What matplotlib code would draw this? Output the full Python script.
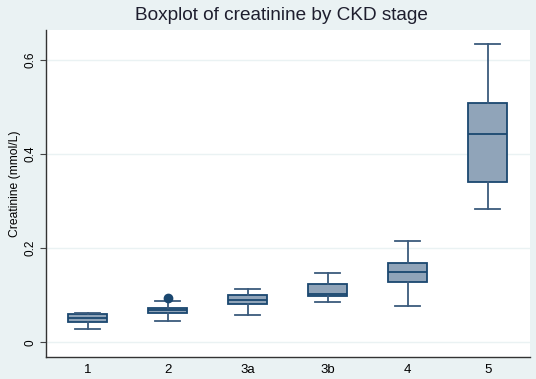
import matplotlib
matplotlib.use("Agg")
import matplotlib.pyplot as plt

plt.rcParams['font.family'] = ['Liberation Sans', 'DejaVu Sans']

stages = ["1", "2", "3a", "3b", "4", "5"]
whislo = [0.0276, 0.0446, 0.0573, 0.0856, 0.0777, 0.2837]
q1     = [0.0425, 0.0622, 0.0807, 0.0990, 0.1280, 0.3400]
med    = [0.0510, 0.0680, 0.0898, 0.1025, 0.1490, 0.4416]
q3     = [0.0594, 0.0722, 0.0998, 0.1244, 0.1677, 0.5090]
whishi = [0.0616, 0.0877, 0.1130, 0.1470, 0.2157, 0.6330]
outliers = [[], [0.0947], [], [], [], []]

yticks = [0, 0.2, 0.4, 0.6]
ytick_labels = ["0", "0.2", "0.4", "0.6"]

bg = "#EAF2F3"
edge = "#1A476F"
fill = "#90A4B9"

fig = plt.figure(figsize=(5.36, 3.79), dpi=100, facecolor=bg)
ax = fig.add_axes([46/536, 1 - 357/379, (530-46)/536, (357-30)/379])
ax.set_facecolor("white")

stats = []
for i in range(len(stages)):
    stats.append(dict(label=stages[i], whislo=whislo[i], q1=q1[i], med=med[i],
                      q3=q3[i], whishi=whishi[i], fliers=outliers[i]))

ax.bxp(stats, positions=range(1, len(stages) + 1), widths=0.48, patch_artist=True,
       boxprops=dict(facecolor=fill, edgecolor=edge, linewidth=1.3),
       medianprops=dict(color=edge, linewidth=1.3),
       whiskerprops=dict(color="#3A5A7C", linewidth=1.3),
       capprops=dict(color="#3A5A7C", linewidth=1.3),
       flierprops=dict(marker="o", markerfacecolor=edge, markeredgecolor=edge, markersize=6),
       capwidths=0.32, zorder=3)

ax.set_xlim(0.48, 6.53)
ax.set_ylim(-0.031, 0.663)
ax.set_yticks(yticks)
ax.set_yticklabels(ytick_labels, rotation=90, va="center", fontsize=8.5, color="#000000")
ax.tick_params(axis="x", length=0, labelsize=9.5, pad=5)
ax.tick_params(axis="y", length=4, color="#444444", pad=3)
ax.grid(axis="y", color=bg, linewidth=1, zorder=0)
ax.set_axisbelow(True)
for s in ["top", "right"]:
    ax.spines[s].set_visible(False)
for s in ["left", "bottom"]:
    ax.spines[s].set_color("#333333")
    ax.spines[s].set_linewidth(1)

fig.text(15/536, 1 - 184/379, "Creatinine (mmol/L)", rotation=90, ha="center", va="center",
         fontsize=8.7)
fig.text(281/536, 1 - 15/379, "Boxplot of creatinine by CKD stage", ha="center", va="center",
         fontsize=13.7, color="#1E1E2E")

fig.savefig("out.png", dpi=100, facecolor=bg)
